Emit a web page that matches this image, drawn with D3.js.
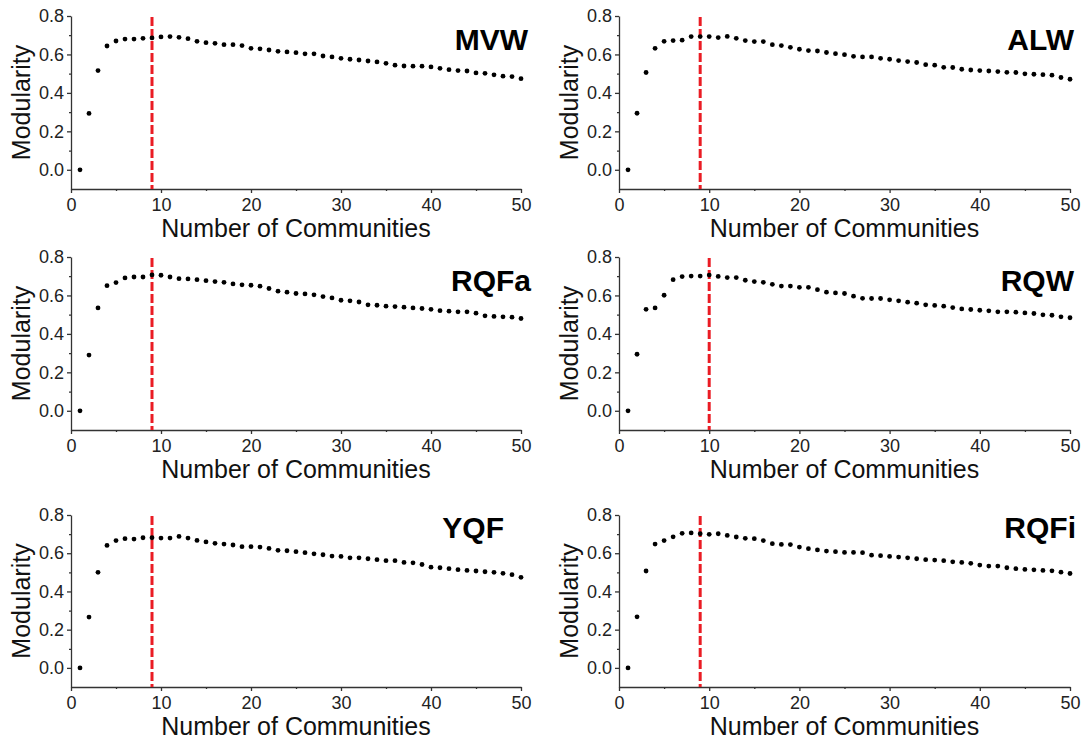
<!DOCTYPE html>
<html>
<head>
<meta charset="utf-8">
<script src="https://cdn.jsdelivr.net/npm/d3@7"></script>
<style>
  html, body { margin: 0; padding: 0; background: #fff; }
  svg { display: block; font-family: "Liberation Sans", Arial, sans-serif; }
  .axis path, .axis line { stroke: #333; stroke-width: 1.3; }
  .axis text { font-size: 18px; fill: #222; }
</style>
</head>
<body>
<svg id="chart" width="1088" height="744"></svg>
<script>
// Number of communities (x positions of every point)
const communities = [1,2,3,4,5,6,7,8,9,10,11,12,13,14,15,16,17,18,19,20,
  21,22,23,24,25,26,27,28,29,30,31,32,33,34,35,36,37,38,39,40,
  41,42,43,44,45,46,47,48,49,50];

// Modularity per network
const mvw = [0.000,0.293,0.516,0.644,0.670,0.680,0.680,0.684,0.686,0.691,
  0.693,0.689,0.682,0.668,0.661,0.658,0.651,0.651,0.646,0.632,
  0.629,0.623,0.616,0.613,0.609,0.603,0.603,0.592,0.587,0.580,
  0.575,0.571,0.566,0.561,0.554,0.544,0.540,0.539,0.539,0.535,
  0.528,0.521,0.516,0.514,0.504,0.502,0.494,0.487,0.485,0.474];
const alw = [0.000,0.294,0.506,0.632,0.668,0.672,0.674,0.693,0.693,0.693,
  0.688,0.694,0.684,0.672,0.667,0.667,0.651,0.646,0.637,0.627,
  0.620,0.618,0.610,0.604,0.599,0.590,0.587,0.587,0.580,0.575,
  0.568,0.563,0.558,0.547,0.544,0.533,0.532,0.523,0.519,0.516,
  0.514,0.511,0.507,0.506,0.499,0.497,0.495,0.492,0.480,0.471];
const rqfa = [0.000,0.290,0.535,0.651,0.667,0.691,0.696,0.696,0.707,0.705,
  0.696,0.687,0.686,0.682,0.677,0.672,0.668,0.660,0.655,0.653,
  0.648,0.636,0.622,0.617,0.610,0.608,0.603,0.594,0.587,0.575,
  0.572,0.566,0.551,0.549,0.544,0.542,0.539,0.535,0.532,0.528,
  0.521,0.518,0.515,0.515,0.508,0.494,0.491,0.489,0.487,0.480];
const rqw = [0.000,0.294,0.528,0.535,0.601,0.682,0.698,0.701,0.701,0.706,
  0.699,0.693,0.693,0.679,0.672,0.668,0.658,0.649,0.649,0.642,
  0.642,0.630,0.617,0.613,0.610,0.596,0.585,0.584,0.584,0.577,
  0.572,0.565,0.560,0.551,0.548,0.544,0.537,0.530,0.527,0.523,
  0.520,0.515,0.515,0.513,0.509,0.506,0.499,0.497,0.489,0.484];
const yqf = [0.000,0.266,0.500,0.641,0.666,0.676,0.674,0.681,0.681,0.679,
  0.679,0.688,0.679,0.667,0.659,0.652,0.648,0.643,0.634,0.634,
  0.632,0.625,0.615,0.613,0.608,0.603,0.597,0.592,0.585,0.583,
  0.576,0.576,0.571,0.566,0.561,0.561,0.552,0.550,0.541,0.527,
  0.524,0.519,0.514,0.510,0.507,0.503,0.500,0.495,0.488,0.474];
const rqfi = [0.000,0.267,0.507,0.648,0.666,0.686,0.704,0.706,0.702,0.699,
  0.702,0.693,0.685,0.678,0.676,0.666,0.650,0.646,0.645,0.632,
  0.624,0.617,0.611,0.608,0.604,0.604,0.603,0.590,0.587,0.583,
  0.580,0.576,0.571,0.566,0.564,0.561,0.555,0.552,0.547,0.538,
  0.533,0.533,0.524,0.519,0.515,0.513,0.510,0.508,0.501,0.494];

const panelNames = ["MVW", "ALW", "RQFa", "RQW", "YQF", "RQFi"];
const panelSeries = [mvw, alw, rqfa, rqw, yqf, rqfi];
const chosenK = [9, 9, 9, 10, 9, 9];

const xTicks = [0, 10, 20, 30, 40, 50];
const xMinorTicks = [5, 15, 25, 35, 45];
const yTicks = [0.0, 0.2, 0.4, 0.6, 0.8];
const yMinorTicks = [0.1, 0.3, 0.5, 0.7];

// Panel frames in pixels: [left, right] per column, [top, bottom] per row
const columns = [[71, 521], [619, 1070]];
const rows = [[16, 189], [257, 430], [515, 687]];
// Name label placement: right-edge offset from the x axis end, baseline offset from the top
const labelDx = [7, 4, 10, 4, -17, 6];
const labelDy = [34, 34, 34, 34, 23, 23];

const svg = d3.select("#chart");

panelNames.forEach((name, i) => {
  const [x0, x1] = columns[i % 2];
  const [y0, y1] = rows[Math.floor(i / 2)];
  const values = panelSeries[i];

  const x = d3.scaleLinear().domain([0, 50]).range([x0, x1]);
  const y = d3.scaleLinear().domain([-0.1, 0.8]).range([y1, y0]);

  const g = svg.append("g");

  // minor ticks
  g.append("g").attr("class", "axis")
    .attr("transform", `translate(0,${y1})`)
    .call(d3.axisBottom(x).tickValues(xMinorTicks).tickSize(2).tickSizeOuter(0).tickFormat(""))
    .select(".domain").remove();
  g.append("g").attr("class", "axis")
    .attr("transform", `translate(${x0},0)`)
    .call(d3.axisLeft(y).tickValues(yMinorTicks).tickSize(2).tickSizeOuter(0).tickFormat(""))
    .select(".domain").remove();

  // major axes
  g.append("g").attr("class", "axis")
    .attr("transform", `translate(0,${y1})`)
    .call(d3.axisBottom(x).tickValues(xTicks).tickSize(4).tickSizeOuter(0).tickPadding(5));
  g.append("g").attr("class", "axis")
    .attr("transform", `translate(${x0},0)`)
    .call(d3.axisLeft(y).tickValues(yTicks).tickSize(4).tickSizeOuter(0).tickPadding(3)
      .tickFormat(d3.format(".1f")));

  // axis titles
  g.append("text")
    .attr("x", (x0 + x1) / 2).attr("y", y1 + 48)
    .attr("text-anchor", "middle")
    .attr("font-size", 25).attr("fill", "#111")
    .text("Number of Communities");
  g.append("text")
    .attr("transform", `translate(${x0 - 41},${(y0 + y1) / 2}) rotate(-90)`)
    .attr("text-anchor", "middle")
    .attr("font-size", 25).attr("fill", "#111")
    .text("Modularity");

  // selected number of communities
  g.append("line")
    .attr("x1", x(chosenK[i])).attr("x2", x(chosenK[i]))
    .attr("y1", y(0.795)).attr("y2", y(-0.1))
    .attr("stroke", "#ea1c24").attr("stroke-width", 3)
    .attr("stroke-dasharray", "9,3");

  // points
  g.append("g").selectAll("circle")
    .data(values)
    .join("circle")
    .attr("cx", (d, j) => x(communities[j]))
    .attr("cy", d => y(d))
    .attr("r", 2.4)
    .attr("fill", "#000");

  // network name
  g.append("text")
    .attr("x", x1 + labelDx[i]).attr("y", y0 + labelDy[i])
    .attr("text-anchor", "end")
    .attr("font-size", 30).attr("font-weight", "bold").attr("fill", "#000")
    .text(name);
});
</script>
</body>
</html>
